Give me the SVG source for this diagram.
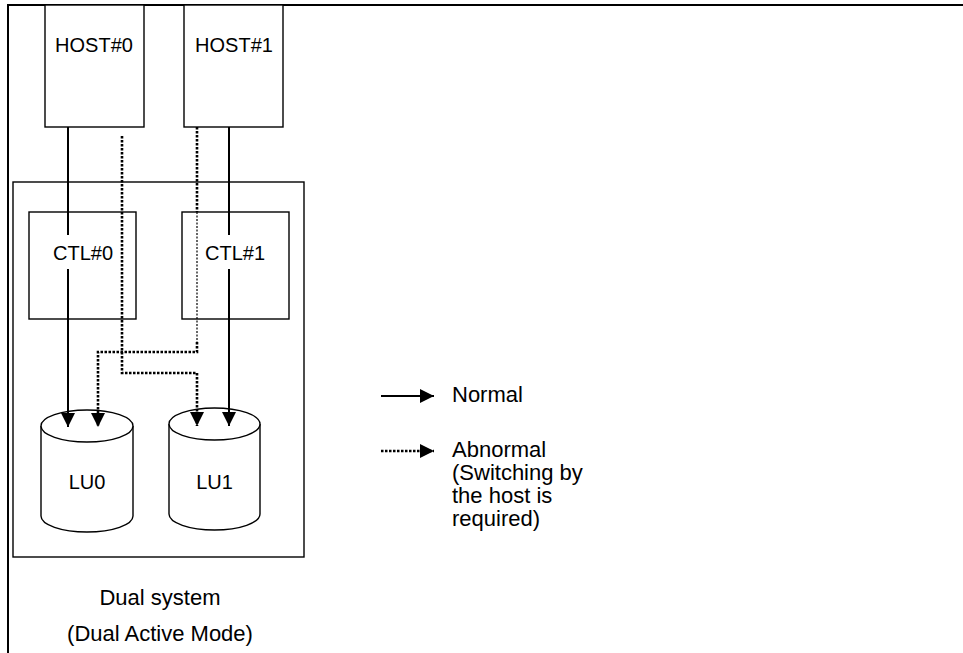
<svg xmlns="http://www.w3.org/2000/svg" width="963" height="653" viewBox="0 0 963 653">
<style>
.box{fill:#fff;stroke:#000;stroke-width:1.4}
.lbl{font-family:"Liberation Sans",Arial,sans-serif;font-size:20px;fill:#000;text-anchor:middle}
.txt{font-family:"Liberation Sans",Arial,sans-serif;font-size:22px;fill:#000}
.solid{fill:none;stroke:#000;stroke-width:2}
.dot{fill:none;stroke:#000;stroke-width:2.6;stroke-dasharray:2.5 1.5}
.thin{fill:none;stroke:#000;stroke-width:1.2;stroke-dasharray:2 1.5}
.frame{fill:none;stroke:#000;stroke-width:2}
</style>
<defs>
<marker id="ah" markerUnits="userSpaceOnUse" markerWidth="14" markerHeight="16" viewBox="0 0 14 16" refX="14" refY="8" orient="auto">
<path d="M0,1 L14,8 L0,15 Z" fill="#000"/>
</marker>
</defs>
<rect width="963" height="653" fill="#fff"/>
<path class="frame" d="M8,653 L8,5 L963,5"/>

<g id="dual-system">
<rect class="box" x="13" y="182" width="291" height="375"/>
<text class="txt" x="160" y="605" text-anchor="middle">Dual system</text>
<text class="txt" x="160" y="641" text-anchor="middle">(Dual Active Mode)</text>
</g>

<g id="host0">
<rect class="box" x="45" y="5" width="99" height="122"/>
<text class="lbl" x="94" y="52">HOST#0</text>
</g>
<g id="host1">
<rect class="box" x="184" y="5" width="99" height="122"/>
<text class="lbl" x="234" y="52">HOST#1</text>
</g>

<g id="ctl0">
<rect class="box" x="29" y="212" width="107" height="107"/>
<text class="lbl" x="83" y="260">CTL#0</text>
</g>
<g id="ctl1">
<rect class="box" x="182" y="212" width="107" height="107"/>
<text class="lbl" x="235" y="260">CTL#1</text>
</g>

<g id="lu0">
<path class="box" d="M41,426 L41,516 A46,16 0 0 0 133,516 L133,426"/>
<ellipse class="box" cx="87" cy="426" rx="46" ry="16"/>
<text class="lbl" x="87" y="489">LU0</text>
</g>
<g id="lu1">
<path class="box" d="M169,424 L169,514 A45.5,16 0 0 0 260,514 L260,424"/>
<ellipse class="box" cx="214.5" cy="424" rx="45.5" ry="16"/>
<text class="lbl" x="214.5" y="489">LU1</text>
</g>

<g id="connectors">
<path class="solid" d="M68,127 L68,235"/>
<path class="solid" d="M68,269 L68,427" marker-end="url(#ah)"/>
<path class="solid" d="M229,127 L229,235"/>
<path class="solid" d="M229,269 L229,426" marker-end="url(#ah)"/>
<path class="dot" d="M122,136 L122,373 L197,373 L197,426" marker-end="url(#ah)"/>
<path class="dot" d="M197,127 L197,212"/>
<path class="thin" d="M197,212 L197,342"/>
<path class="dot" d="M197,342 L197,352 L98,352 L98,427" marker-end="url(#ah)"/>
</g>

<g id="legend">
<path class="solid" d="M381,396 L434,396" marker-end="url(#ah)"/>
<text class="txt" x="452" y="402">Normal</text>
<path class="dot" d="M381,451 L434,451" marker-end="url(#ah)"/>
<text class="txt" x="452" y="457">Abnormal</text>
<text class="txt" x="452" y="480">(Switching by</text>
<text class="txt" x="452" y="503">the host is</text>
<text class="txt" x="452" y="526">required)</text>
</g>
</svg>
